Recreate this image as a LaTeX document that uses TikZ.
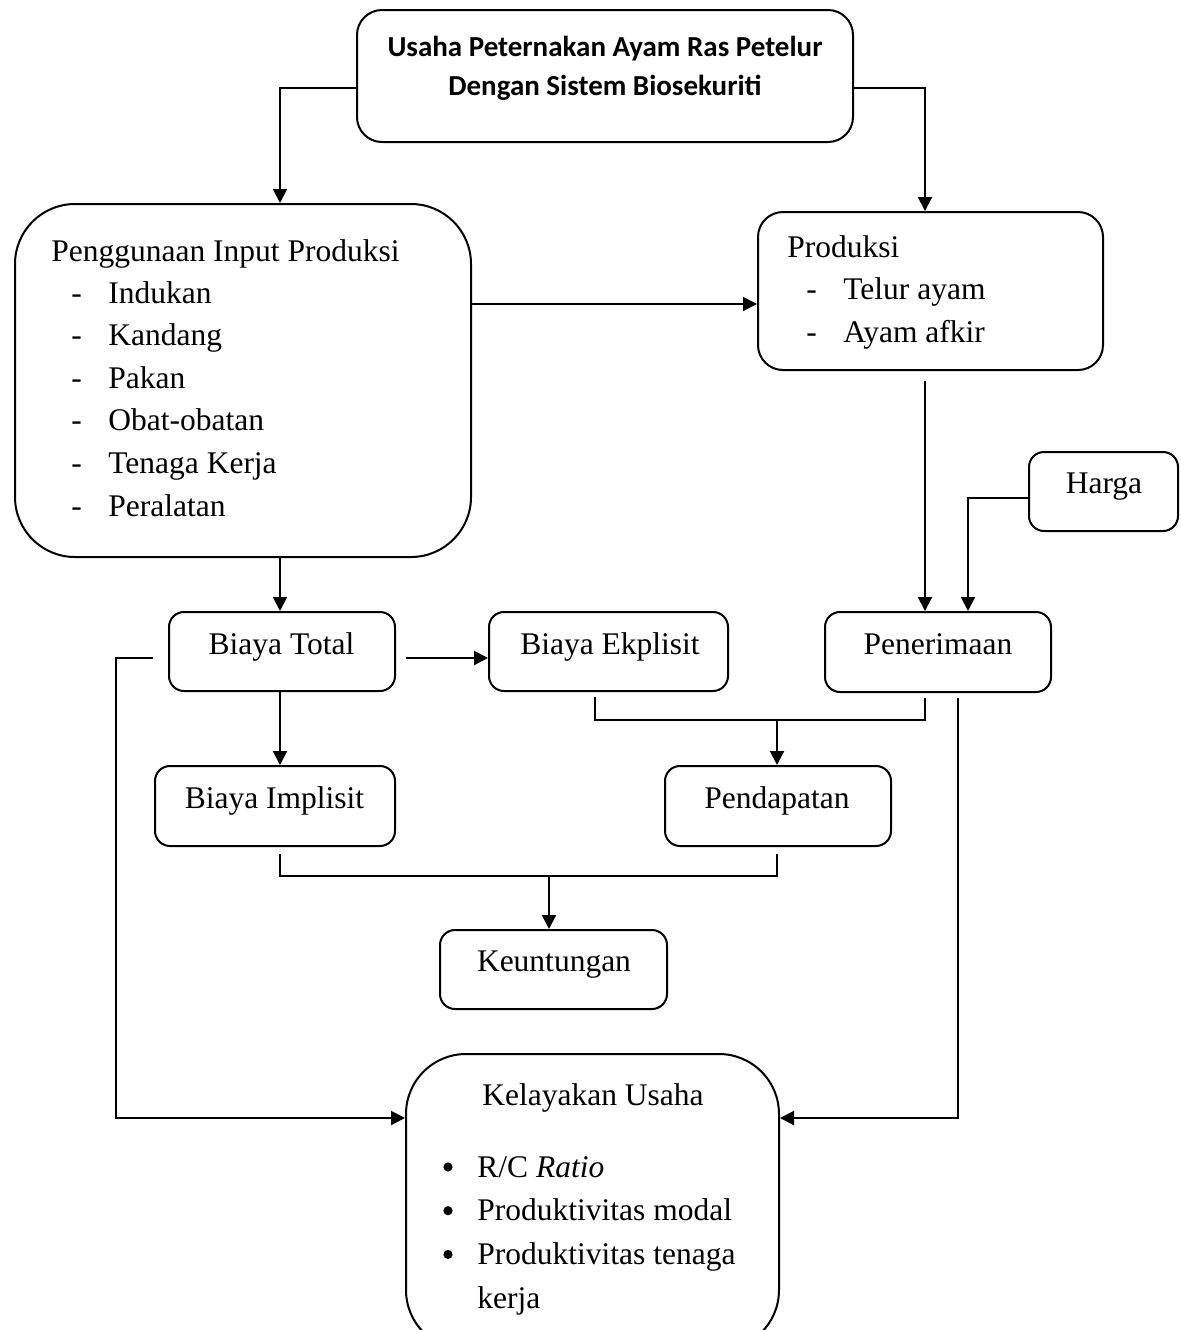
\documentclass[tikz,border=0pt]{standalone}
\usepackage{fontspec}
\setmainfont{Liberation Serif}
\newfontfamily\titlefont{Carlito}
\usetikzlibrary{arrows.meta}
\begin{document}
\begin{tikzpicture}[x=0.5pt,y=-0.5pt,
  box/.style={draw, line width=1pt, rounded corners=7.5pt, inner sep=0pt},
  txt/.style={inner sep=0pt, font=\fontsize{15.75pt}{21pt}\selectfont},
  ttl/.style={inner sep=0pt, font=\titlefont\bfseries\fontsize{14.5pt}{19.5pt}\selectfont},
  dot/.style={circle, fill, inner sep=0pt, minimum size=4.6pt},
  conn/.style={line width=1pt},
  arr/.style={conn, -{Triangle[length=7pt,width=7pt]}}]
\path[use as bounding box, clip] (0,0) rectangle (1180,1330);
\fill[white] (0,0) rectangle (1180,1330);

% boxes
\node[box, rounded corners=12.5pt, minimum width=248pt, minimum height=66pt] (top) at (605,76) {};
\node[box, rounded corners=30pt, minimum width=228pt, minimum height=176.5pt] (A) at (243,380.5) {};
\node[box, rounded corners=12.5pt, minimum width=172.5pt, minimum height=79pt] (B) at (930.5,291) {};
\node[box, minimum width=74.5pt, minimum height=39.5pt] (Harga) at (1103.5,491.5) {};
\node[box, minimum width=113pt, minimum height=40pt] (Pen) at (938,652) {};
\node[box, minimum width=113pt, minimum height=39.5pt] (BT) at (282,651.5) {};
\node[box, minimum width=119.5pt, minimum height=39.5pt] (BE) at (608.5,651.5) {};
\node[box, minimum width=120pt, minimum height=40pt] (BI) at (275,806) {};
\node[box, minimum width=113pt, minimum height=40pt] (Pd) at (778,806) {};
\node[box, minimum width=113.5pt, minimum height=39.5pt] (K) at (553.5,969.5) {};
\node[box, rounded corners=30pt, minimum width=186.5pt, minimum height=148pt] (KU) at (592.5,1202) {};

% texts
\node[ttl, anchor=base] (t1) at (605,56) {Usaha Peternakan Ayam Ras Petelur};
\node[ttl, anchor=base] (t2) at (605,95) {Dengan Sistem Biosekuriti};

\node[txt, anchor=base west] (Ah) at (51,261) {Penggunaan Input Produksi};
\foreach \t [count=\i from 0] in {Indukan,Kandang,Pakan,Obat-obatan,Tenaga Kerja,Peralatan}{
  \node[txt, anchor=base west] (Ad\i) at (71,303+42.6*\i) {-};
  \node[txt, anchor=base west] (Ai\i) at (108,303+42.6*\i) {\t};
}
\node[txt, anchor=base west] (Bh) at (787,257) {Produksi};
\foreach \t [count=\i from 0] in {Telur ayam,Ayam afkir}{
  \node[txt, anchor=base west] (Bd\i) at (806,299+43*\i) {-};
  \node[txt, anchor=base west] (Bi\i) at (843,299+43*\i) {\t};
}
\node[txt, anchor=base] (Hx) at (1104,493) {Harga};
\node[txt, anchor=base] (Penx) at (938,654) {Penerimaan};
\node[txt, anchor=base] (BTx) at (281.5,654) {Biaya Total};
\node[txt, anchor=base] (BEx) at (610,654) {Biaya Ekplisit};
\node[txt, anchor=base] (BIx) at (274.5,808) {Biaya Implisit};
\node[txt, anchor=base] (Pdx) at (777,808) {Pendapatan};
\node[txt, anchor=base] (Kx) at (554,971) {Keuntungan};
\node[txt, anchor=base] (KUx) at (593,1105) {Kelayakan Usaha};
\foreach \t [count=\i from 0] in {R/C \textit{Ratio},Produktivitas modal,Produktivitas tenaga,kerja}{
  \node[txt, anchor=base west] (Ki\i) at (477,1177+43.7*\i) {\t};
}
\foreach \i in {0,1,2}{
  \node[dot] (Kb\i) at (448,1167+43.7*\i) {};
}

% connectors
\draw[arr] (top.west |- 0,88) -| (A.north -| 280,0);
\draw[arr] (top.east |- 0,88) -| (B.north -| 925,0);
\draw[arr] (A.east |- 0,304) -- (B.west |- 0,304);
\draw[arr, shorten <=5pt] (B.south -| 925,0) -- (Pen.north -| 925,0);
\draw[arr] (Harga.west |- 0,498) -| (Pen.north -| 968,0);
\draw[arr] (A.south -| 280,0) -- (BT.north -| 280,0);
\draw[arr, shorten <=5pt] (BT.east |- 0,658) -- (BE.west |- 0,658);
\draw[arr] (BT.south -| 280,0) -- (BI.north -| 280,0);

\coordinate (j1) at (777,720);
\draw[conn, shorten <=2.5pt, shorten >=2.5pt] (BE.south -| 595,0) |- (j1) -| (Pen.south -| 925,0);
\draw[arr] (j1) -- (Pd.north -| 777,0);

\coordinate (j2) at (549,876);
\draw[conn, shorten <=3.5pt, shorten >=3.5pt] (BI.south -| 280,0) |- (j2) -| (Pd.south -| 777,0);
\draw[arr] (j2) -- (K.north -| 549,0);

\draw[arr, shorten <=7.5pt] (BT.west |- 0,658) -| (116,1118) -- (KU.west |- 0,1118);
\draw[arr, shorten <=2.5pt] (Pen.south -| 958,0) |- (KU.east |- 0,1118);
\end{tikzpicture}
\end{document}
